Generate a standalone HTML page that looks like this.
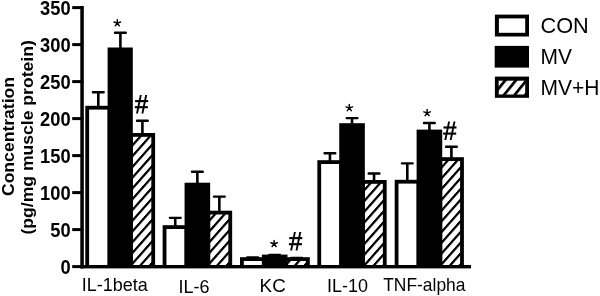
<!DOCTYPE html>
<html><head><meta charset="utf-8"><style>
html,body{margin:0;padding:0;background:#fff;}
body{width:600px;height:296px;overflow:hidden;position:relative;font-family:"Liberation Sans",sans-serif;}
svg{position:absolute;left:0;top:0;will-change:transform;}
text{font-family:"Liberation Sans",sans-serif;fill:#000;}
</style></head><body>
<svg width="600" height="296" viewBox="0 0 600 296">
<defs>
<pattern id="hatch0" patternUnits="userSpaceOnUse" width="100" height="10.75" patternTransform="translate(132.8,218.55) skewY(-48.5)">
<rect width="100" height="10.75" fill="#fff"/><rect y="0" width="100" height="3.4" fill="#000"/></pattern>
<pattern id="hatch1" patternUnits="userSpaceOnUse" width="100" height="10.75" patternTransform="translate(210.15,218.05) skewY(-48.5)">
<rect width="100" height="10.75" fill="#fff"/><rect y="0" width="100" height="3.4" fill="#000"/></pattern>
<pattern id="hatch2" patternUnits="userSpaceOnUse" width="100" height="10.75" patternTransform="translate(287.5,218.55) skewY(-48.5)">
<rect width="100" height="10.75" fill="#fff"/><rect y="0" width="100" height="3.4" fill="#000"/></pattern>
<pattern id="hatch3" patternUnits="userSpaceOnUse" width="100" height="10.75" patternTransform="translate(364.85,220.15) skewY(-48.5)">
<rect width="100" height="10.75" fill="#fff"/><rect y="0" width="100" height="3.4" fill="#000"/></pattern>
<pattern id="hatch4" patternUnits="userSpaceOnUse" width="100" height="10.75" patternTransform="translate(442.2,218.85) skewY(-48.5)">
<rect width="100" height="10.75" fill="#fff"/><rect y="0" width="100" height="3.4" fill="#000"/></pattern>
<pattern id="lhatch" patternUnits="userSpaceOnUse" width="10.6" height="40" patternTransform="translate(502.8,94.3) skewX(-39)">
<rect width="10.6" height="40" fill="#fff"/><rect width="3.5" height="40" fill="#000"/></pattern>
</defs>
<rect x="85.3" y="105.8" width="23.3" height="160.2" fill="#000"/>
<rect x="89.1" y="109.6" width="18.5" height="155.4" fill="#fff"/>
<rect x="131.8" y="133" width="23.3" height="133" fill="#000"/>
<rect x="132.8" y="136.8" width="18.5" height="128.2" fill="url(#hatch0)"/>
<rect x="107.6" y="47.5" width="25.2" height="218.5" fill="#000"/>
<rect x="91.8" y="91" width="13" height="2.4" rx="1"/>
<rect x="97" y="92.2" width="2.6" height="14.6" fill="#000"/>
<rect x="113.9" y="31.6" width="13" height="2.4" rx="1"/>
<rect x="119.1" y="32.8" width="2.6" height="15.7" fill="#000"/>
<rect x="135.9" y="119.6" width="13" height="2.4" rx="1"/>
<rect x="141.1" y="120.8" width="2.6" height="13.2" fill="#000"/>
<rect x="162.65" y="225.2" width="22.9" height="40.8" fill="#000"/>
<rect x="166.45" y="229" width="18.1" height="36" fill="#fff"/>
<rect x="209.15" y="210.7" width="23" height="55.3" fill="#000"/>
<rect x="210.15" y="214.5" width="18.2" height="50.5" fill="url(#hatch1)"/>
<rect x="184.55" y="182.7" width="25.6" height="83.3" fill="#000"/>
<rect x="168.75" y="216.7" width="13" height="2.4" rx="1"/>
<rect x="173.95" y="217.9" width="2.6" height="8.3" fill="#000"/>
<rect x="190.85" y="170.5" width="13" height="2.4" rx="1"/>
<rect x="196.05" y="171.7" width="2.6" height="12" fill="#000"/>
<rect x="212.85" y="195.4" width="13" height="2.4" rx="1"/>
<rect x="218.05" y="196.6" width="2.6" height="15.1" fill="#000"/>
<rect x="240" y="257.2" width="22.9" height="8.8" fill="#000"/>
<rect x="243.8" y="261" width="18.1" height="4" fill="#fff"/>
<rect x="286.5" y="257.2" width="23.3" height="8.8" fill="#000"/>
<rect x="287.5" y="261" width="18.5" height="4" fill="url(#hatch2)"/>
<rect x="261.9" y="254.6" width="25.6" height="11.4" fill="#000"/>
<rect x="246.1" y="256.2" width="13" height="2.4" rx="1"/>
<rect x="251.3" y="257.4" width="2.6" height="0.8" fill="#000"/>
<rect x="268.2" y="253.7" width="13" height="2.4" rx="1"/>
<rect x="273.4" y="254.9" width="2.6" height="0.7" fill="#000"/>
<rect x="290.2" y="256.8" width="13" height="2.4" rx="1"/>
<rect x="295.4" y="258" width="2.6" height="0.2" fill="#000"/>
<rect x="317.35" y="160.2" width="22.9" height="105.8" fill="#000"/>
<rect x="321.15" y="164" width="18.1" height="101" fill="#fff"/>
<rect x="363.85" y="180" width="22.8" height="86" fill="#000"/>
<rect x="364.85" y="183.8" width="18" height="81.2" fill="url(#hatch3)"/>
<rect x="339.25" y="123.2" width="25.6" height="142.8" fill="#000"/>
<rect x="323.45" y="152.1" width="13" height="2.4" rx="1"/>
<rect x="328.65" y="153.3" width="2.6" height="7.9" fill="#000"/>
<rect x="345.55" y="116.9" width="13" height="2.4" rx="1"/>
<rect x="350.75" y="118.1" width="2.6" height="6.1" fill="#000"/>
<rect x="367.55" y="172.3" width="13" height="2.4" rx="1"/>
<rect x="372.75" y="173.5" width="2.6" height="7.5" fill="#000"/>
<rect x="394.7" y="179.8" width="22.9" height="86.2" fill="#000"/>
<rect x="398.5" y="183.6" width="18.1" height="81.4" fill="#fff"/>
<rect x="441.2" y="157.2" width="22.7" height="108.8" fill="#000"/>
<rect x="442.2" y="161" width="17.9" height="104" fill="url(#hatch4)"/>
<rect x="416.6" y="129.6" width="25.6" height="136.4" fill="#000"/>
<rect x="400.8" y="162.2" width="13" height="2.4" rx="1"/>
<rect x="406" y="163.4" width="2.6" height="17.4" fill="#000"/>
<rect x="422.9" y="121.8" width="13" height="2.4" rx="1"/>
<rect x="428.1" y="123" width="2.6" height="7.6" fill="#000"/>
<rect x="444.9" y="145.55" width="13" height="2.4" rx="1"/>
<rect x="450.1" y="146.75" width="2.6" height="11.45" fill="#000"/>
<!-- axes -->
<rect x="80.3" y="6.1" width="3.5" height="262.3" fill="#000"/>
<rect x="80.3" y="265.0" width="390.7" height="3.4" fill="#000"/>
<rect x="72.2" y="265.1" width="11" height="3" fill="#000"/>
<text transform="translate(70.6,273.5) scale(0.95,1)" text-anchor="end" font-size="19.3" font-weight="bold">0</text>
<rect x="72.2" y="228.1" width="11" height="3" fill="#000"/>
<text transform="translate(70.6,236.5) scale(0.95,1)" text-anchor="end" font-size="19.3" font-weight="bold">50</text>
<rect x="72.2" y="191.1" width="11" height="3" fill="#000"/>
<text transform="translate(70.6,199.5) scale(0.95,1)" text-anchor="end" font-size="19.3" font-weight="bold">100</text>
<rect x="72.2" y="154.1" width="11" height="3" fill="#000"/>
<text transform="translate(70.6,162.5) scale(0.95,1)" text-anchor="end" font-size="19.3" font-weight="bold">150</text>
<rect x="72.2" y="117.1" width="11" height="3" fill="#000"/>
<text transform="translate(70.6,125.5) scale(0.95,1)" text-anchor="end" font-size="19.3" font-weight="bold">200</text>
<rect x="72.2" y="80.1" width="11" height="3" fill="#000"/>
<text transform="translate(70.6,88.5) scale(0.95,1)" text-anchor="end" font-size="19.3" font-weight="bold">250</text>
<rect x="72.2" y="43.1" width="11" height="3" fill="#000"/>
<text transform="translate(70.6,51.5) scale(0.95,1)" text-anchor="end" font-size="19.3" font-weight="bold">300</text>
<rect x="72.2" y="6.1" width="11" height="3" fill="#000"/>
<text transform="translate(70.6,14.5) scale(0.95,1)" text-anchor="end" font-size="19.3" font-weight="bold">350</text>
<text transform="translate(81.7,290.8) scale(1,1.03)" font-size="18">IL-1beta</text>
<text transform="translate(178.5,292.7) scale(1,1.03)" font-size="18">IL-6</text>
<text transform="translate(259.6,291.9) scale(1.045,1.03)" font-size="18">KC</text>
<text transform="translate(327,291.9) scale(1,1.03)" font-size="18">IL-10</text>
<text transform="translate(383.2,291.1) scale(0.968,1.03)" font-size="18">TNF-alpha</text>
<path d="M117.3 23.1L117.3 19.7M117.3 23.1L120.53 22.05M117.3 23.1L119.3 25.85M117.3 23.1L115.3 25.85M117.3 23.1L114.07 22.05" stroke="#000" stroke-width="1.45" stroke-linecap="round" fill="none"/><path d="M274.1 243.8L274.1 240.4M274.1 243.8L277.33 242.75M274.1 243.8L276.1 246.55M274.1 243.8L272.1 246.55M274.1 243.8L270.87 242.75" stroke="#000" stroke-width="1.45" stroke-linecap="round" fill="none"/><path d="M349.3 107.9L349.3 104.5M349.3 107.9L352.53 106.85M349.3 107.9L351.3 110.65M349.3 107.9L347.3 110.65M349.3 107.9L346.07 106.85" stroke="#000" stroke-width="1.45" stroke-linecap="round" fill="none"/><path d="M427.1 112.9L427.1 109.5M427.1 112.9L430.33 111.85M427.1 112.9L429.1 115.65M427.1 112.9L425.1 115.65M427.1 112.9L423.87 111.85" stroke="#000" stroke-width="1.45" stroke-linecap="round" fill="none"/>
<path d="M139.85 95.1L141.75 95.1L137.95 113.6L136.05 113.6Z"/><path d="M145.25 95.1L147.15 95.1L143.35 113.6L141.45 113.6Z"/><rect x="135.1" y="100.05" width="13.1" height="2.1"/><rect x="134.8" y="106.15" width="13.1" height="2.1"/><path d="M293.95 232.1L295.85 232.1L292.05 250.6L290.15 250.6Z"/><path d="M299.35 232.1L301.25 232.1L297.45 250.6L295.55 250.6Z"/><rect x="289.2" y="237.05" width="13.1" height="2.1"/><rect x="288.9" y="243.15" width="13.1" height="2.1"/><path d="M448.15 121.5L450.05 121.5L446.25 140L444.35 140Z"/><path d="M453.55 121.5L455.45 121.5L451.65 140L449.75 140Z"/><rect x="443.4" y="126.45" width="13.1" height="2.1"/><rect x="443.1" y="132.55" width="13.1" height="2.1"/>
<text transform="translate(14,136.5) rotate(-90) scale(1.1,1)" font-size="16" font-weight="bold" text-anchor="middle">Concentration</text>
<text transform="translate(33,137.4) rotate(-90) scale(1.1,1)" font-size="16" font-weight="bold" text-anchor="middle">(pg/mg muscle protein)</text>
<rect x="494.9" y="14.6" width="34.1" height="21.9" fill="#000"/>
<rect x="498.9" y="18.4" width="26.3" height="14.4" fill="#fff"/>
<rect x="494.7" y="45.9" width="34.3" height="21.7" fill="#000"/>
<rect x="494.9" y="76.6" width="34.1" height="21.2" fill="#000"/>
<rect x="498.7" y="80.7" width="26.5" height="13.8" fill="url(#lhatch)"/>
<text transform="translate(540.5,32.9) scale(1.035,1.06)" font-size="21">CON</text>
<text transform="translate(540.5,64) scale(1,1.06)" font-size="21">MV</text>
<text transform="translate(540.5,94.8) scale(1,1.06)" font-size="21">MV+H</text>
</svg>
</body></html>
